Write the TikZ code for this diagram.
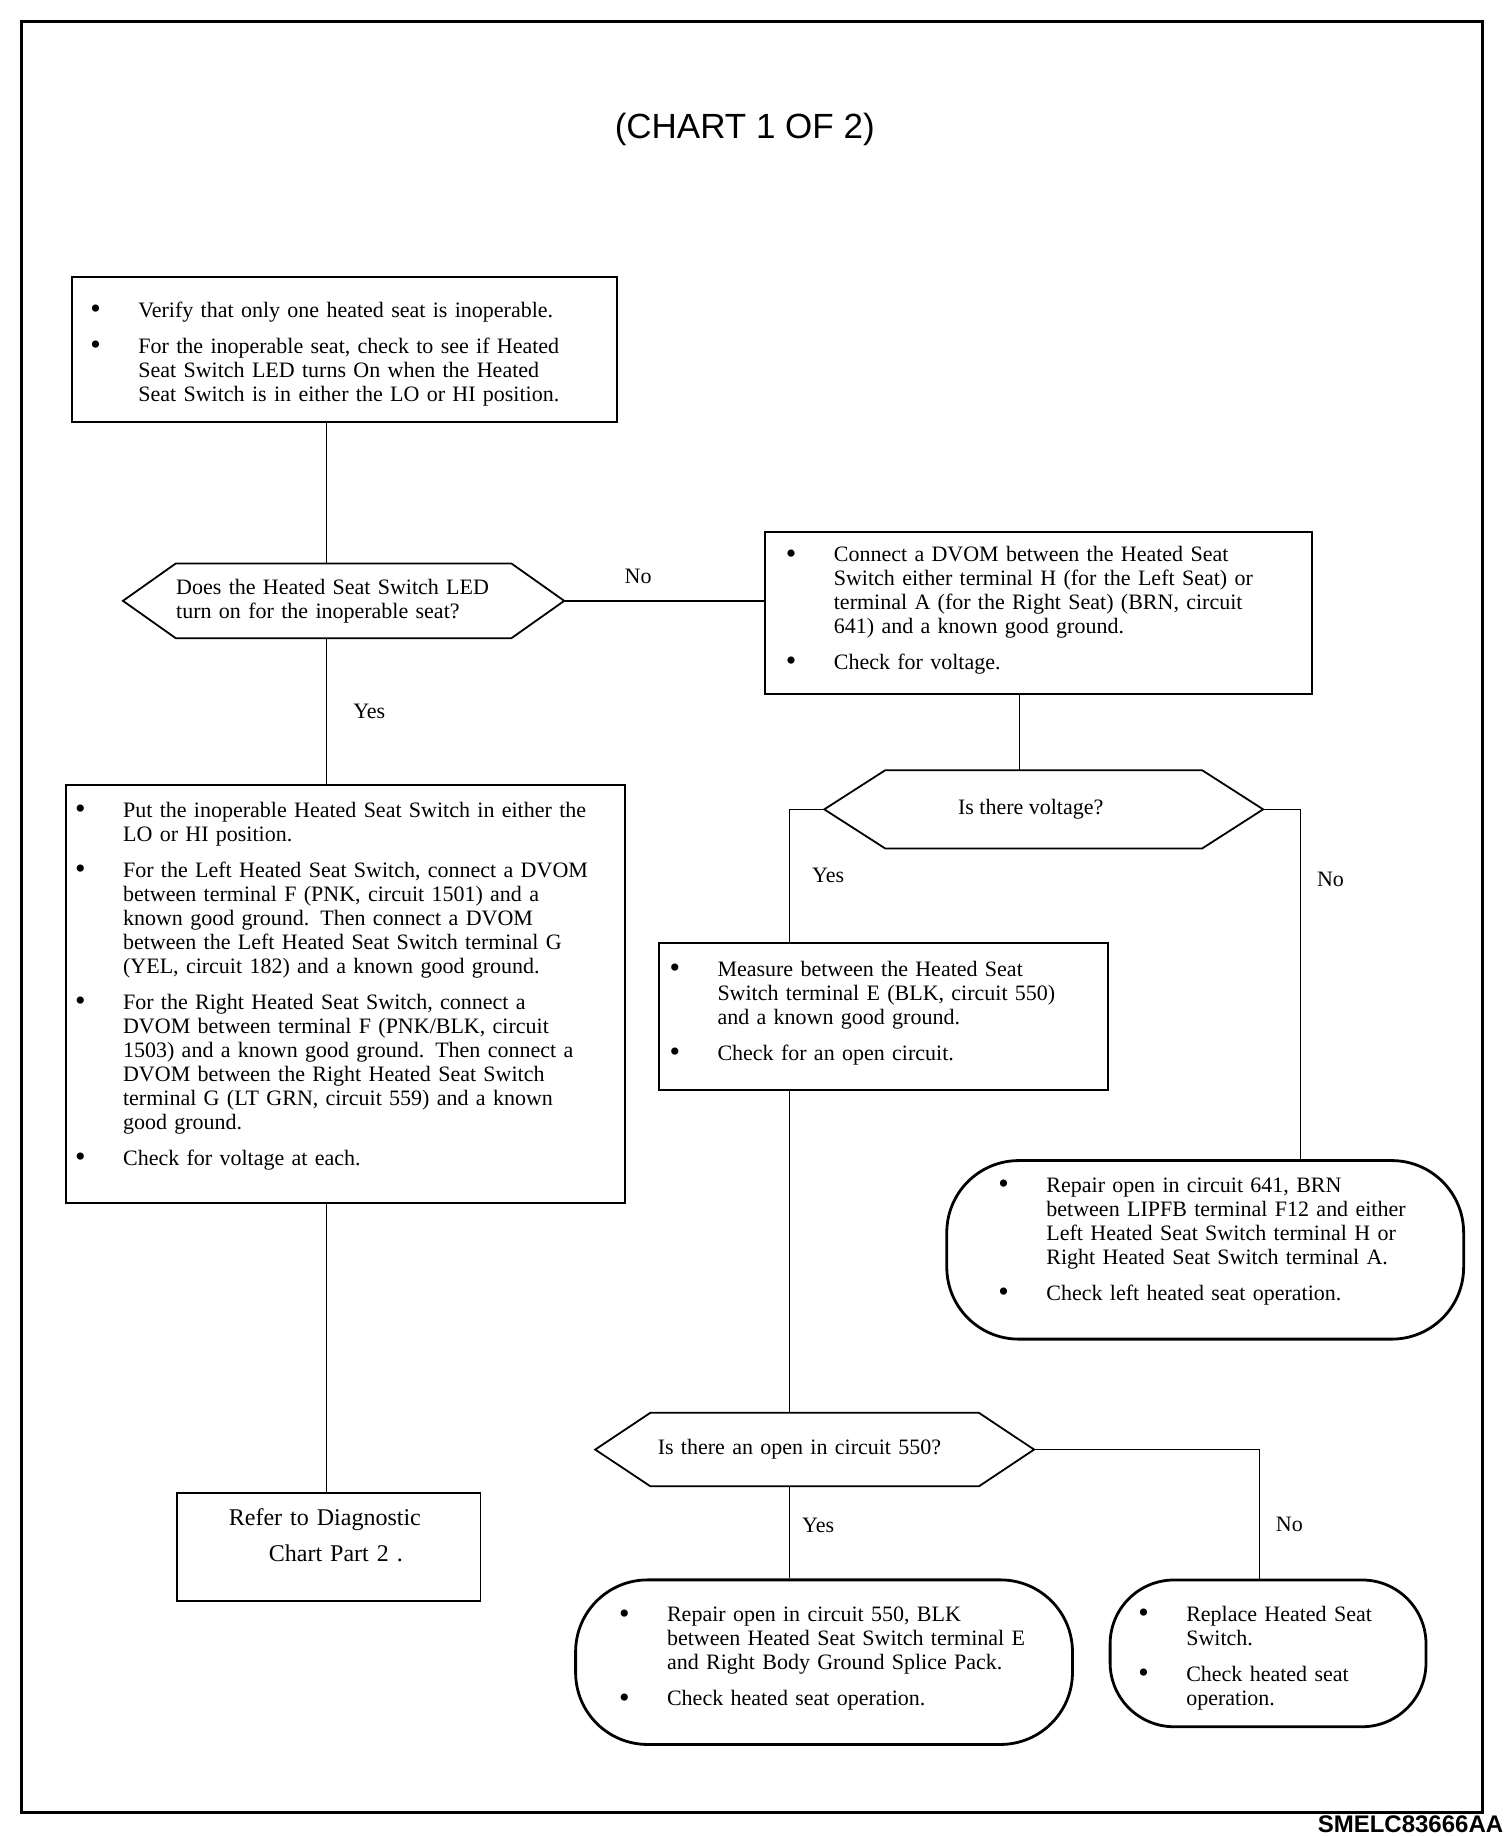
\documentclass[tikz,border=0pt]{standalone}
\usepackage{fontspec}
\setmainfont{Liberation Serif}
\setsansfont{Liberation Sans}
\usepackage{tikz}
\usetikzlibrary{calc,positioning}
\newdimen\bulind
\bulind=24pt
\newcommand{\chartfont}{\fontsize{11pt}{12pt}\selectfont}
\newcommand{\bitem}[1]{\par\noindent\hangindent=\bulind\hangafter=1%
  \makebox[\bulind][l]{\raisebox{-0.6pt}{\fontsize{15pt}{12pt}\selectfont\textbullet}}#1\par}
\newcommand{\bgap}{\vspace{6pt}}
\newcommand{\tailgap}[1]{\par\nointerlineskip\hrule height 0pt depth #1 width 0pt}
\newcommand{\hexagon}[2][46]{%
  \draw [decline] (#2.west)
    -- ($(#2.north west)+(#1,0)$) -- ($(#2.north east)-(#1,0)$)
    -- (#2.east)
    -- ($(#2.south east)-(#1,0)$) -- ($(#2.south west)+(#1,0)$)
    -- cycle;}
\tikzstyle{frame}=[
  draw=black,
  line width=1.6pt,
]
\tikzstyle{stepbox}=[
  draw=black,
  line width=0.9pt,
  rectangle,
  inner sep=0pt,
  align=left,
  font=\chartfont,
]
\tikzstyle{endbox}=[
  stepbox,
  line width=1.4pt,
  rounded corners=36pt,
]
\tikzstyle{decision}=[
  rectangle,
  inner sep=0pt,
  font=\chartfont,
]
\tikzstyle{decline}=[
  draw=black,
  line width=0.9pt,
]
\tikzstyle{line}=[
  draw=black,
  line width=0.7pt,
]
\tikzstyle{linelabel}=[
  font=\chartfont,
  inner sep=0pt,
]
\begin{document}
\begin{tikzpicture}[x=0.5875pt, y=-0.5875pt]
  \useasboundingbox (0,0) rectangle (1280,1563);
  \draw [frame] (18,18) rectangle (1262,1543);
  \node (title) at (634,110) {\sffamily\fontsize{17.5pt}{20pt}\selectfont (CHART 1 OF 2)};
  \node (code) [anchor=base east, inner sep=0pt] at (1280,1560)
    {\sffamily\bfseries\fontsize{12pt}{12pt}\selectfont SMELC83666AA};
  %%
  \node (verify) [stepbox, minimum width=272.6pt, minimum height=72.3pt, text width=253.8pt] at (293,297.5) {
    \bitem{Verify that only one heated seat is inoperable.}\bgap
    \bitem{For the inoperable seat, check to see if Heated\newline
      Seat Switch LED turns On when the Heated\newline
      Seat Switch is in either the LO or HI position.}};
  \node (ledon) [decision, minimum width=220.3pt, minimum height=37pt, text width=167.4pt, align=left] at (292.5,511.5)
    {Does the Heated Seat Switch LED\\turn on for the inoperable seat?};
  \node (inplace) [stepbox, minimum width=279.7pt, minimum height=209.2pt, text width=270.3pt] at (294,846) {
    \bitem{Put the inoperable Heated Seat Switch in either the\newline
      LO or HI position.}\bgap
    \bitem{For the Left Heated Seat Switch, connect a DVOM\newline
      between terminal F (PNK, circuit 1501) and a\newline
      known good ground. Then connect a DVOM\newline
      between the Left Heated Seat Switch terminal G\newline
      (YEL, circuit 182) and a known good ground.}\bgap
    \bitem{For the Right Heated Seat Switch, connect a\newline
      DVOM between terminal F (PNK/BLK, circuit\newline
      1503) and a known good ground. Then connect a\newline
      DVOM between the Right Heated Seat Switch\newline
      terminal G (LT GRN, circuit 559) and a known\newline
      good ground.}\bgap
    \bitem{Check for voltage at each.}\tailgap{12pt}};
  \node (refer) [stepbox, minimum width=151.6pt, minimum height=54.1pt, text width=112pt,
    font=\fontsize{12pt}{17.6pt}\selectfont] at (280,1317)
    {\hspace*{6pt}Refer to Diagnostic\par\hspace*{26pt}Chart Part 2 .\tailgap{11.8pt}};
  %%
  \node (dvom) [stepbox, minimum width=273.8pt, minimum height=81.1pt, text width=252.6pt] at (884,522) {
    \bitem{Connect a DVOM between the Heated Seat\newline
      Switch either terminal H (for the Left Seat) or\newline
      terminal A (for the Right Seat) (BRN, circuit\newline
      641) and a known good ground.}\bgap
    \bitem{Check for voltage.}\tailgap{7pt}};
  \node (voltage) [decision, minimum width=219.1pt, minimum height=38.8pt] at (888.5,689)
    {\hspace*{-13pt}Is there voltage?};
  \node (measure) [stepbox, minimum width=224.4pt, minimum height=73.4pt, text width=213.9pt] at (752,865.5) {
    \bitem{Measure between the Heated Seat\newline
      Switch terminal E (BLK, circuit 550)\newline
      and a known good ground.}\bgap
    \bitem{Check for an open circuit.}\tailgap{8pt}};
  \node (repair641) [endbox, minimum width=258.5pt, minimum height=89.3pt, text width=206.8pt] at (1026,1064) {
    \bitem{Repair open in circuit 641, BRN\newline
      between LIPFB terminal F12 and either\newline
      Left Heated Seat Switch terminal H or\newline
      Right Heated Seat Switch terminal A.}\bgap
    \bitem{Check left heated seat operation.}\tailgap{13pt}};
  \node (open550) [decision, minimum width=219.1pt, minimum height=36.4pt, text width=156.9pt, align=left] at (693.5,1234)
    {Is there an open in circuit 550?};
  \node (repair550) [endbox, minimum width=248.5pt, minimum height=82.3pt, text width=205pt] at (701.5,1415) {
    \bitem{Repair open in circuit 550, BLK\newline
      between Heated Seat Switch terminal E\newline
      and Right Body Ground Splice Pack.}\bgap
    \bitem{Check heated seat operation.}\tailgap{8pt}};
  \node (replace) [endbox, rounded corners=32pt, minimum width=158pt, minimum height=73.4pt, text width=129.8pt] at (1079.5,1407.5) {
    \bitem{Replace Heated Seat\newline
      Switch.}\bgap
    \bitem{Check heated seat\newline
      operation.}};
  %%
  \hexagon[45]{ledon}
  \hexagon[52]{voltage}
  \hexagon[47]{open550}
  %%
  \coordinate (spineL) at (278,0);
  \coordinate (spineM) at (672,0);
  \coordinate (spineR) at (868,0);
  \coordinate (colR) at (1107,0);
  \coordinate (colN) at (1072,0);
  \draw [line] (verify.south-|spineL) -- (ledon.north-|spineL);
  \draw [line] (ledon.east) -- node [linelabel, pos=.37, above=8pt] {No} (dvom.west|-ledon.east);
  \draw [line] (ledon.south-|spineL) -- node [linelabel, right=13pt] {Yes} (inplace.north-|spineL);
  \draw [line] (inplace.south-|spineL) -- (refer.north-|spineL);
  \draw [line] (dvom.south-|spineR) -- (voltage.north-|spineR);
  \draw [line] (voltage.west) -- (voltage.west-|spineM)
    -- node [linelabel, right=11pt] {Yes} (measure.north-|spineM);
  \draw [line] (voltage.east) -- (voltage.east-|colR)
    -- node [linelabel, pos=.2, right=8pt] {No} (repair641.north-|colR);
  \draw [line] (measure.south-|spineM) -- (open550.north-|spineM);
  \draw [line] (open550.south-|spineM) -- node [linelabel, pos=.42, right=6pt] {Yes} (repair550.north-|spineM);
  \draw [line] (open550.east) -- (open550.east-|colN)
    -- node [linelabel, pos=.58, right=8pt] {No} (replace.north-|colN);
\end{tikzpicture}
\end{document}
